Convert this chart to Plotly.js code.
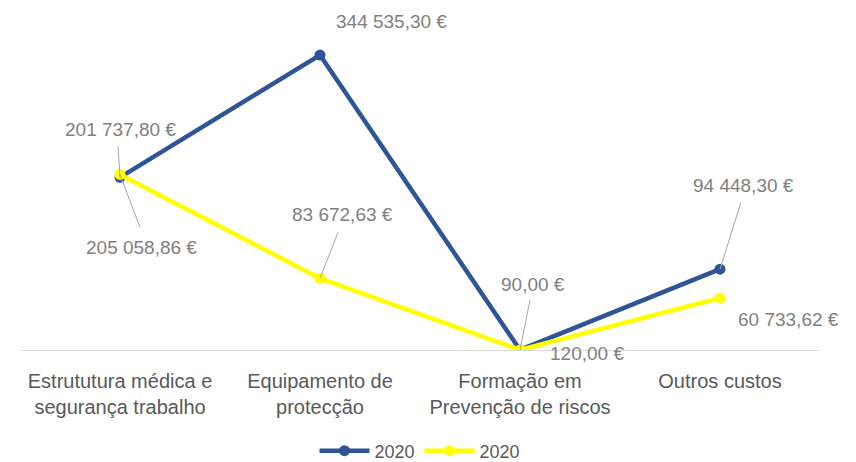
<!DOCTYPE html>
<html>
<head>
<meta charset="utf-8">
<script src="https://cdn.plot.ly/plotly-3.0.1.min.js"></script>
<style>html,body{margin:0;padding:0;background:#fff;}#chart{width:856px;height:462px;}</style>
</head>
<body>
<div id="chart"></div>
<script>
const categories = ["Estrututura médica e<br>segurança trabalho", "Equipamento de<br>protecção", "Formação em<br>Prevenção de riscos", "Outros custos"];
const seriesNames = ["2020", "2020"];
const blueValues = [201737.80, 344535.30, 90.00, 94448.30];
const yellowValues = [205058.86, 83672.63, 120.00, 60733.62];

const BLUE = "#2f5597", YELLOW = "#ffff00";
const FONT = "Liberation Sans, Arial, sans-serif";

function fmt(v) {
  const parts = v.toFixed(2).split(".");
  const intPart = parts[0].replace(/\B(?=(\d{3})+(?!\d))/g, " ");
  return intPart + "," + parts[1] + " €";
}

const xIdx = categories.map((_, i) => i);

// label offsets (px) and leader-line tails (px, y up)
const blueLabelShift = [[0, 48], [71, 34], [13, 65], [23, 84]];
const yellowLabelShift = [[21, -73], [22, 64], [67, -4], [68, -21]];
const blueLeader = [[-2, 31], null, [10, 50], [21, 67]];
const yellowLeader = [[20, -53], [18, 46], null, null];

const traces = [
  {x: xIdx, y: blueValues, name: seriesNames[0], type: "scatter", mode: "lines+markers",
   line: {color: BLUE, width: 4.5}, marker: {color: BLUE, size: 11}, hoverinfo: "skip"},
  {x: xIdx, y: yellowValues, name: seriesNames[1], type: "scatter", mode: "lines+markers",
   line: {color: YELLOW, width: 4.5}, marker: {color: YELLOW, size: 11}, hoverinfo: "skip"}
];

const annotations = [];
const shapes = [];
function addLabels(vals, shifts, leaders) {
  vals.forEach((v, i) => {
    annotations.push({x: i, y: v, xref: "x", yref: "y", text: fmt(v), showarrow: false,
      xshift: shifts[i][0], yshift: shifts[i][1],
      font: {family: FONT, size: 19, color: "#7f7f7f"}});
    if (leaders[i]) {
      shapes.push({type: "line", xref: "x", yref: "y", xsizemode: "pixel", ysizemode: "pixel",
        xanchor: i, yanchor: v, x0: 0, y0: 0, x1: leaders[i][0], y1: leaders[i][1],
        line: {color: "#a6a6a6", width: 1}});
    }
  });
}
addLabels(blueValues, blueLabelShift, blueLeader);
addLabels(yellowValues, yellowLabelShift, yellowLeader);

// plot area: paper height 454 (t=8,b=0); axis baseline at y=350 -> domain bottom = 112/454
const layout = {
  width: 856, height: 462,
  margin: {l: 20, r: 36, t: 8, b: 0, autoexpand: false},
  paper_bgcolor: "#fff", plot_bgcolor: "#fff",
  showlegend: true,
  legend: {orientation: "h", x: 0.5, xanchor: "center", y: 0.0242, yanchor: "middle",
    font: {family: FONT, size: 18, color: "#595959"}, itemwidth: 50},
  xaxis: {range: [-0.5, 3.5], tickvals: xIdx, ticktext: categories, showgrid: false, zeroline: false,
    showline: true, linecolor: "#d9d9d9", linewidth: 1, automargin: false,
    ticks: "outside", ticklen: 13, tickcolor: "rgba(0,0,0,0)",
    tickfont: {family: FONT, size: 20, color: "#595959"}, fixedrange: true},
  yaxis: {domain: [112 / 454, 1], range: [0, 399500], showgrid: false, zeroline: false,
    showticklabels: false, showline: false, automargin: false, fixedrange: true},
  annotations: annotations,
  shapes: shapes
};

Plotly.newPlot("chart", traces, layout, {displayModeBar: false, staticPlot: true});
</script>
</body>
</html>
